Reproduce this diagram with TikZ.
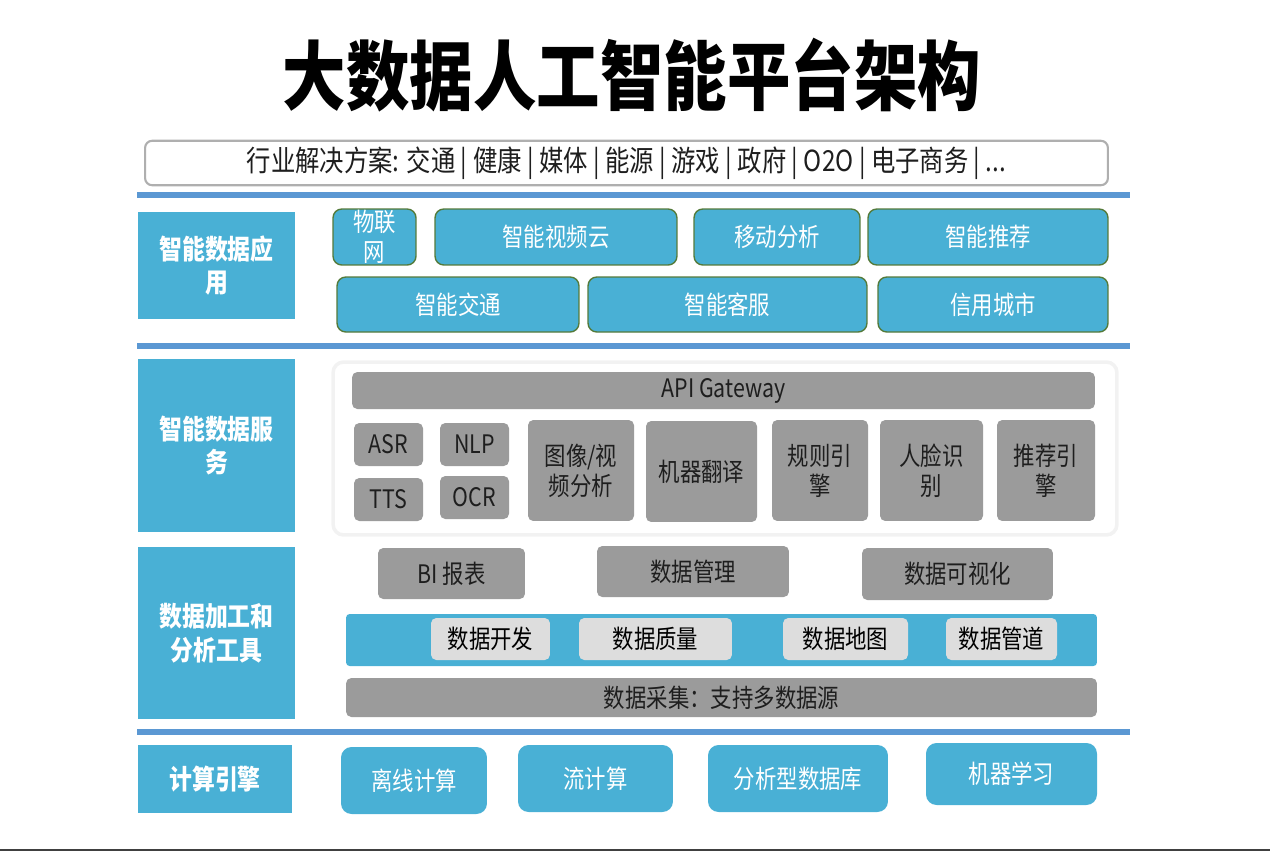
\documentclass[tikz,border=0pt]{standalone}
\usepackage{fontspec}
\setmainfont{Noto Sans CJK SC}
\newfontfamily\cjknarrow[FakeStretch=0.84]{Noto Sans CJK SC}
\usetikzlibrary{positioning}
\definecolor{myblue}{RGB}{73,176,213}
\definecolor{myline}{RGB}{91,152,211}
\definecolor{mygray}{RGB}{155,155,155}
\definecolor{mylight}{RGB}{221,221,221}
\definecolor{myolive}{RGB}{84,122,58}
\definecolor{mydark}{RGB}{30,30,30}
\definecolor{myframe}{RGB}{175,175,175}
\tikzset{
  layer/.style={rectangle, fill=myblue, text=white, align=center, inner sep=0pt, font=\cjknarrow\fontsize{15.5}{19}\selectfont\bfseries},
  appbox/.style={rectangle, draw=myolive, fill=myblue, text=white, align=center, rounded corners=5pt, line width=0.8pt, inner sep=0pt, font=\cjknarrow\fontsize{14.5}{17}\selectfont},
  graybox/.style={rectangle, fill=mygray, text=mydark, align=center, rounded corners=3pt, inner sep=0pt, font=\cjknarrow\fontsize{14.5}{17}\selectfont},
  lightbox/.style={rectangle, fill=mylight, text=black, rounded corners=3pt, inner sep=0pt, font=\cjknarrow\fontsize{14.5}{17}\selectfont},
  engbox/.style={rectangle, fill=myblue, text=white, rounded corners=6pt, inner sep=0pt, font=\cjknarrow\fontsize{14.5}{17}\selectfont},
  sep/.style={line width=3pt, color=myline}
}
\begin{document}
\begin{tikzpicture}[x=0.02cm, y=-0.02cm]
  \useasboundingbox (0,0) rectangle (1270,852);
  % Title
  \node[font=\cjknarrow\fontsize{43}{50}\selectfont\bfseries] (title) at (632,75) {大数据人工智能平台架构};
  \node[rectangle, draw=myframe, fill=white, line width=1.2pt, rounded corners=4pt, minimum width=19.26cm, minimum height=0.8cm, font=\cjknarrow\fontsize{16.5}{19}\selectfont, text=mydark] (solution) at (626.5,163) {行业解决方案: 交通 | 健康 | 媒体 | 能源 | 游戏 | 政府 | O2O | 电子商务 | ...};
  \draw[sep] (137,195) -- (1130,195);

  % Applications
  \node[layer, minimum width=3.14cm, minimum height=2.14cm] (apps) at (216.5,265.5) {智能数据应\\用};
  \node[appbox, minimum width=1.66cm, minimum height=1.12cm] (iot) at (374.5,237) {物联\\网};
  \node[appbox, minimum width=4.84cm, minimum height=1.12cm] (video) at (556,237) {智能视频云};
  \node[appbox, minimum width=3.32cm, minimum height=1.12cm] (mobile) at (777,237) {移动分析};
  \node[appbox, minimum width=4.8cm, minimum height=1.12cm] (recommend) at (988,237) {智能推荐};
  \node[appbox, minimum width=4.84cm, minimum height=1.1cm] (traffic) at (458,304.5) {智能交通};
  \node[appbox, minimum width=5.58cm, minimum height=1.1cm] (custsvc) at (727.5,304.5) {智能客服};
  \node[appbox, minimum width=4.6cm, minimum height=1.1cm] (credit) at (993,304.5) {信用城市};
  \draw[sep] (137,346) -- (1130,346);

  % Services
  \node[layer, minimum width=3.14cm, minimum height=3.46cm] (services) at (216.5,445.5) {智能数据服\\务};
  \node[rectangle, draw=black!5, fill=white, line width=2pt, rounded corners=6pt, minimum width=15.68cm, minimum height=3.46cm] (svcframe) at (725,448.5) {};
  \node[graybox, minimum width=14.86cm, minimum height=0.74cm] (api) at (723.5,390.5) {API Gateway};
  \node[graybox, minimum width=1.38cm, minimum height=0.86cm] (asr) at (388.5,444.5) {ASR};
  \node[graybox, minimum width=1.38cm, minimum height=0.86cm] (tts) at (388.5,499.5) {TTS};
  \node[graybox, minimum width=1.38cm, minimum height=0.86cm] (nlp) at (474.5,444.5) {NLP};
  \node[graybox, minimum width=1.38cm, minimum height=0.86cm] (ocr) at (474.5,497.5) {OCR};
  \node[graybox, minimum width=2.12cm, minimum height=2.02cm] (image) at (581,470.5) {图像/视\\频分析};
  \node[graybox, minimum width=2.22cm, minimum height=2.02cm] (translate) at (701.5,471.5) {机器翻译};
  \node[graybox, minimum width=1.92cm, minimum height=2.02cm] (rule) at (820,470.5) {规则引\\擎};
  \node[graybox, minimum width=2.06cm, minimum height=2.02cm] (face) at (931.5,470.5) {人脸识\\别};
  \node[graybox, minimum width=1.96cm, minimum height=2.02cm] (recengine) at (1046,470.5) {推荐引\\擎};

  % Data tools
  \node[layer, minimum width=3.14cm, minimum height=3.44cm] (tools) at (216.5,633) {数据加工和\\分析工具};
  \node[graybox, minimum width=2.94cm, minimum height=1.02cm] (bi) at (451.5,573.5) {BI 报表};
  \node[graybox, minimum width=3.84cm, minimum height=1.02cm] (manage) at (693,571.5) {数据管理};
  \node[graybox, minimum width=3.82cm, minimum height=1.04cm] (visual) at (957.5,574) {数据可视化};
  \node[rectangle, fill=myblue, rounded corners=2pt, minimum width=15.02cm, minimum height=1.04cm] (toolbar) at (721.5,640) {};
  \node[lightbox, minimum width=2.38cm, minimum height=0.84cm] (develop) at (490.5,639) {数据开发};
  \node[lightbox, minimum width=3.06cm, minimum height=0.84cm] (quality) at (655.5,639) {数据质量};
  \node[lightbox, minimum width=2.5cm, minimum height=0.84cm] (datamap) at (845.5,639) {数据地图};
  \node[lightbox, minimum width=2.22cm, minimum height=0.84cm] (pipeline) at (1001.5,639) {数据管道};
  \node[graybox, minimum width=15.02cm, minimum height=0.78cm] (collect) at (721.5,697.5) {数据采集：支持多数据源};
  \draw[sep] (137,732) -- (1130,732);

  % Compute engines
  \node[layer, minimum width=3.08cm, minimum height=1.36cm] (engine) at (215,779) {计算引擎};
  \node[engbox, minimum width=2.92cm, minimum height=1.34cm] (offline) at (414,780.5) {离线计算};
  \node[engbox, minimum width=3.1cm, minimum height=1.34cm] (stream) at (595.5,778.5) {流计算};
  \node[engbox, minimum width=3.6cm, minimum height=1.34cm] (olap) at (798,778.5) {分析型数据库};
  \node[engbox, minimum width=3.42cm, minimum height=1.24cm] (ml) at (1011.5,774) {机器学习};
  \draw[line width=1.2pt, color=black!75] (0,850) -- (1270,850);
\end{tikzpicture}
\end{document}
